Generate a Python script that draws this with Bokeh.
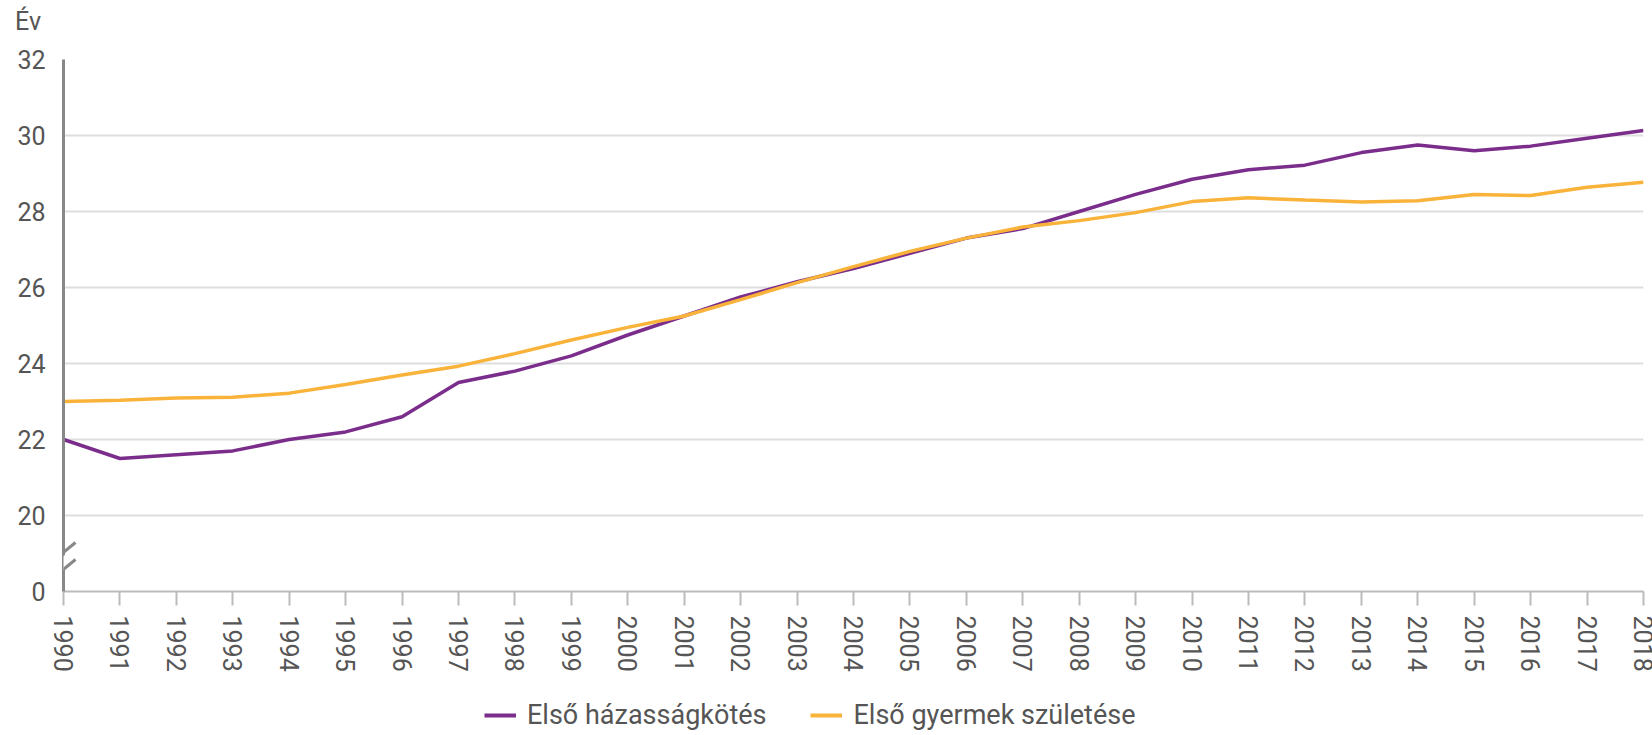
from bokeh.plotting import figure
from bokeh.layouts import column
from bokeh.models import (Range1d, FixedTicker, Legend, LegendItem, Div,
                          PolyAnnotation, Arrow)
from bokeh.embed import file_html
from bokeh.resources import INLINE

# ---------------- data ----------------
years = list(range(1990, 2019))
first_marriage = [22.0, 21.5, 21.6, 21.7, 22.0, 22.2, 22.6, 23.5, 23.8, 24.2,
                  24.75, 25.25, 25.75, 26.15, 26.5, 26.9, 27.3, 27.55, 28.0, 28.45,
                  28.85, 29.1, 29.22, 29.55, 29.75, 29.6, 29.72, 29.93, 30.13]
first_child = [23.0, 23.03, 23.09, 23.11, 23.22, 23.45, 23.7, 23.93, 24.26, 24.62,
               24.95, 25.25, 25.68, 26.13, 26.55, 26.95, 27.3, 27.59, 27.76, 27.97,
               28.26, 28.36, 28.3, 28.25, 28.28, 28.45, 28.42, 28.64, 28.77]
series_names = ["Első házasságkötés", "Első gyermek születése"]
y_ticks = [20, 22, 24, 26, 28, 30, 32]
y_break_pos = 18          # position on the broken axis where "0" is shown
y_break_label = "0"
y_title = "Év"

PURPLE = "#7b2d8c"
ORANGE = "#f9b33b"
FONT = "Roboto"
TXT = "#555555"

W, H_TOP, H_MAIN, H_LEG = 1652, 36, 654, 45
FRAME_TOP, FRAME_BOTTOM = 59 - H_TOP, 591 - H_TOP

# axis title strip
title_div = Div(text=(f'<div style="padding:7px 0 0 15px;font-family:Roboto;'
                      f'font-size:25px;line-height:29px;color:{TXT}">{y_title}</div>'),
                width=W, height=H_TOP, margin=(0, 0, 0, 0))

p = figure(width=W, height=H_MAIN, output_backend="svg", toolbar_location=None,
           x_range=Range1d(years[0], years[-1]),
           y_range=Range1d(y_break_pos, y_ticks[-1]),
           min_border_left=63, min_border_right=9, min_border_top=FRAME_TOP,
           min_border_bottom=H_MAIN - FRAME_BOTTOM)
p.outline_line_color = None
p.background_fill_color = "white"
p.border_fill_color = "white"

# grid
p.xgrid.visible = False
p.ygrid.ticker = FixedTicker(ticks=y_ticks)
p.ygrid.grid_line_color = "#dedede"
p.ygrid.grid_line_width = 2

# y axis
p.yaxis.ticker = FixedTicker(ticks=[y_break_pos] + y_ticks)
p.yaxis.major_label_overrides = {y_break_pos: y_break_label}
p.yaxis.axis_line_color = "#888888"
p.yaxis.axis_line_width = 3
p.yaxis.major_tick_line_color = None
p.yaxis.minor_tick_line_color = None
p.yaxis.major_tick_out = 0
p.yaxis.major_tick_in = 0
p.yaxis.major_label_standoff = 18
p.yaxis.major_label_text_font = FONT
p.yaxis.major_label_text_font_size = "25px"
p.yaxis.major_label_text_color = TXT

# x axis
p.xaxis.ticker = FixedTicker(ticks=years)
p.xaxis.axis_line_color = "#bbbbbb"
p.xaxis.axis_line_width = 2
p.xaxis.major_tick_line_color = "#bbbbbb"
p.xaxis.major_tick_line_width = 2
p.xaxis.major_tick_out = 14
p.xaxis.major_tick_in = 0
p.xaxis.minor_tick_line_color = None
p.xaxis.major_label_orientation = "vertical"
p.xaxis.major_label_standoff = 10
p.xaxis.major_label_text_font = FONT
p.xaxis.major_label_text_font_size = "25px"
p.xaxis.major_label_text_color = TXT

# lines
r1 = p.line(years, first_marriage, line_color=PURPLE, line_width=3.5)
r2 = p.line(years, first_child, line_color=ORANGE, line_width=3.5)

# axis break marker (decoration, placed by pixel offsets from the axis corner)
px_x = (years[-1] - years[0]) / 1580.0
px_y = (y_ticks[-1] - y_break_pos) / 532.0
def dx(px):
    return years[0] + px * px_x
def dy(px):
    return y_break_pos + px * px_y
p.add_layout(PolyAnnotation(xs=[dx(-6), dx(6), dx(6), dx(-6)],
                            ys=[dy(17), dy(26), dy(40), dy(31)],
                            fill_color="white", fill_alpha=1, line_color=None))
for y0 in (14, 31):
    p.add_layout(Arrow(end=None, x_start=dx(-10), y_start=dy(y0),
                       x_end=dx(12), y_end=dy(y0 + 18),
                       line_color="#888888", line_width=3))

# legend in its own strip below the chart
lg = figure(width=W, height=H_LEG, output_backend="svg", toolbar_location=None,
            x_range=Range1d(0, 1), y_range=Range1d(0, 1),
            min_border=0, outline_line_color=None)
lg.axis.visible = False
lg.grid.visible = False
d1 = lg.line([5, 6], [5, 6], line_color=PURPLE, line_width=4)
d2 = lg.line([5, 6], [5, 6], line_color=ORANGE, line_width=4)
legend = Legend(items=[LegendItem(label=series_names[0], renderers=[d1]),
                       LegendItem(label=series_names[1], renderers=[d2])],
                orientation="horizontal", location=(421, 4),
                padding=0, margin=0, spacing=44, label_standoff=11,
                glyph_width=32, glyph_height=30, label_height=30,
                label_text_font=FONT, label_text_font_size="27px",
                label_text_color=TXT, border_line_alpha=0,
                background_fill_alpha=0)
lg.add_layout(legend, "center")

layout = column(title_div, p, lg, spacing=0)
open("out.html", "w").write(file_html(layout, INLINE))
